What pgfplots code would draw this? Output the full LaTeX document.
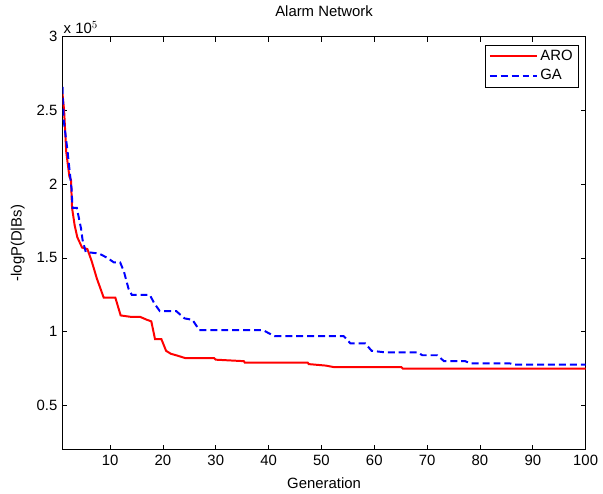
\documentclass[border=0pt]{standalone}
\usepackage{pgfplots}
\pgfplotsset{compat=1.18}
\usepackage{fontspec}
\setmainfont{Liberation Sans}
\definecolor{arored}{RGB}{255,0,0}
\definecolor{gablue}{RGB}{0,0,255}
\newcommand{\fs}{\fontsize{15}{17}\selectfont}
\begin{document}
\fs
\begin{tikzpicture}
\begin{axis}[
  name=ax,
  width=527pt, height=416pt, scale only axis,
  xmin=1, xmax=100, ymin=20000, ymax=300000,
  xtick={10,20,...,100},
  ytick={50000,100000,150000,200000,250000,300000},
  scaled y ticks=base 10:-5,
  every y tick scale label/.style={at={(rel axis cs:0,1)},anchor=south west,inner sep=1pt,yshift=2pt},
  ytick scale label code/.code={x 10$^{5}$},
  /pgf/number format/assume math mode=true,
  tick label style={font=\fs},
  label style={font=\fs},
  title style={font=\fs,at={(axis description cs:0.5,1.048)},anchor=center},
  xlabel style={at={(axis description cs:0.5,-0.0817)},anchor=center},
  ylabel style={at={(axis description cs:-0.0854,0.5)},anchor=center},
  tick align=inside, major tick length=5pt,
  axis line style={line width=0.8pt},
  every tick/.style={black,line width=0.6pt},
  title={Alarm Network},
  xlabel={Generation}, ylabel={-logP(D|Bs)},
  legend style={at={(rel axis cs:0.987,0.981)},anchor=north east,draw=black,
    font=\fs,inner xsep=4pt,inner ysep=3pt,row sep=3pt},
  legend cell align=left,
  legend image code/.code={\draw[#1] plot coordinates {(0pt,0pt) (48pt,0pt)};},
]
\addplot[color=arored,line width=2pt] coordinates {
(1,261000) (1.3,250000) (1.7,222000) (2.3,205000) (2.6,203000) (2.8,184000)
(3.3,172000) (3.8,164000) (4.7,157000) (5.7,156000) (6.5,148000) (7.5,136000)
(8.3,128000) (8.8,123000) (11,123000) (11.5,117000) (12,111000) (14,110000)
(15.7,110000) (17,108000) (17.8,107000) (18.5,95000) (19.7,95000) (20.6,87000)
(21.5,85000) (22.5,84000) (24.3,82000) (29.7,82000) (30,81000) (35.3,80000)
(35.5,79000) (47.4,79000) (47.6,78000) (50.8,77000) (52.3,76000) (65.1,76000)
(65.4,75000) (100,75000)};
\addlegendentry{ARO}
\addplot[color=gablue,line width=2pt,dash pattern=on 7pt off 4pt] coordinates {
(1,266000) (1.2,244000) (1.9,224000) (2.7,197000) (2.9,184000) (3.7,184000)
(4.5,170000) (4.8,162000) (5.4,154000) (7.9,153000) (9.5,150000) (10.7,147000)
(11.9,147000) (12.6,141000) (13.5,129000) (14.1,125000) (17.5,125000) (18.4,119000)
(19.4,114000) (22.5,114000) (24.1,109000) (25.6,108000) (26.9,101000) (39,101000)
(40,99000) (41.1,97000) (54.2,97000) (55.5,92000) (58.3,92000) (59.5,87000)
(62,86000) (68.2,86000) (69.1,84000) (71.9,84000) (73.2,80000) (77.2,80000)
(78.2,78500) (85.6,78500) (86.6,77700) (100,77700)};
\addlegendentry{GA}
\end{axis}
\path (ax.south west) ++(-63pt,-42pt);
\path (ax.north east) ++(13pt,37pt);
\end{tikzpicture}
\end{document}
